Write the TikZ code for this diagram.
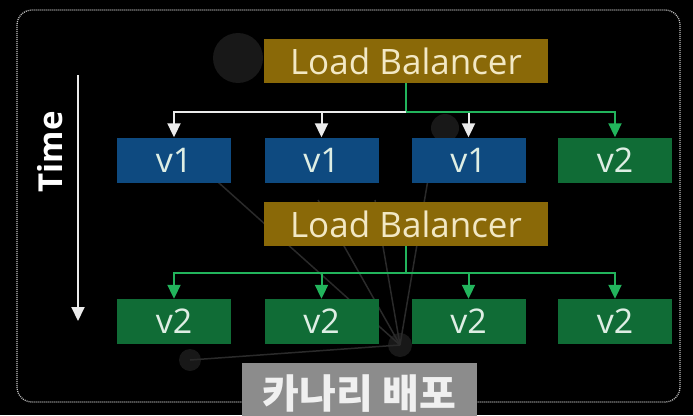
\documentclass[tikz,border=0pt]{standalone}
\usepackage{fontspec}
\setmainfont{Open Sans}
\newfontfamily\krfont{Noto Sans CJK KR}
\usetikzlibrary{arrows.meta}
\definecolor{lbgold}{RGB}{138,105,8}
\definecolor{vblue}{RGB}{14,74,128}
\definecolor{vgreen}{RGB}{16,108,54}
\definecolor{agreen}{RGB}{34,180,92}
\definecolor{lbtext}{RGB}{242,232,196}
\definecolor{vtext}{RGB}{222,238,228}
\definecolor{lblgray}{RGB}{140,140,140}
\definecolor{faintdot}{RGB}{24,24,24}
\definecolor{faintline}{RGB}{42,42,42}
\tikzset{
  lbbox/.style={fill=lbgold, text=lbtext, minimum width=284pt, minimum height=44pt, inner sep=0pt, font=\fontsize{35}{38}\selectfont},
  vbox/.style={minimum width=114pt, minimum height=45pt, inner sep=0pt, text=vtext, font=\fontsize{34}{36}\selectfont},
  oldv/.style={vbox, fill=vblue},
  newv/.style={vbox, fill=vgreen},
  wline/.style={draw=white!92!black, line width=2pt},
  gline/.style={draw=agreen, line width=2pt},
  tip/.style={-{Triangle[width=13pt,length=14pt]}},
}
\begin{document}
\begin{tikzpicture}[x=1pt,y=-1pt]
\useasboundingbox (0,0) rectangle (693,415);
\fill[black] (0,0) rectangle (693,415);
% faint background decoration
\fill[faintdot] (238,58) circle (25);
\fill[faintdot] (445,128) circle (14);
\fill[faintdot] (190,360) circle (11);
\fill[faintdot] (400,345) circle (12);
\draw[faintline, line width=1.5pt] (190,157) -- (400,345);
\draw[faintline, line width=1.5pt] (318,200) -- (400,345);
\draw[faintline, line width=1.5pt] (375,200) -- (400,345);
\draw[faintline, line width=1.5pt] (433,150) -- (400,345);
\draw[faintline, line width=1.5pt] (190,360) -- (400,345);
% dotted frame
\draw[white!75!black, line width=1.3pt, dash pattern=on 1pt off 1pt, rounded corners=15pt] (17,10) rectangle (680,402);
% time axis
\coordinate (t0) at (78,75);
\coordinate (t1) at (78,321);
\draw[wline, tip] (t0) -- (t1);
\node[rotate=90, text=white, font=\bfseries\fontsize{33}{36}\selectfont] (time) at (50,152) {Time};
% first stage
\node[lbbox] (lb1) at (406,61) {Load Balancer};
\node[oldv] (a1) at (174,160) {v1};
\node[oldv] (a2) at (321.5,160) {v1};
\node[oldv] (a3) at (468.5,160) {v1};
\node[newv] (a4) at (615,160) {v2};
\coordinate (j1) at (406,112);
\draw[gline] (lb1.south) -- (j1);
\draw[wline, tip] (j1) -| (a1.north);
\draw[wline, tip] (j1 -| a2.north) -- (a2.north);
\draw[wline, tip] (j1 -| a3.north) -- (a3.north);
\draw[gline, tip] (j1) -| (a4.north);
% second stage
\node[lbbox] (lb2) at (406,224) {Load Balancer};
\node[newv] (b1) at (174,321.5) {v2};
\node[newv] (b2) at (321.5,321.5) {v2};
\node[newv] (b3) at (468.5,321.5) {v2};
\node[newv] (b4) at (615,321.5) {v2};
\coordinate (j2) at (406,273);
\draw[gline] (lb2.south) -- (j2);
\draw[gline, tip] (j2) -| (b1.north);
\draw[gline, tip] (j2 -| b2.north) -- (b2.north);
\draw[gline, tip] (j2 -| b3.north) -- (b3.north);
\draw[gline, tip] (j2) -| (b4.north);
% caption
\node[fill=lblgray, text=white!94!black, minimum width=235pt, minimum height=62pt, inner sep=0pt, font=\krfont\bfseries\fontsize{40}{44}\selectfont] (canary) at (359.5,394) {카나리 배포};
\end{tikzpicture}
\end{document}
